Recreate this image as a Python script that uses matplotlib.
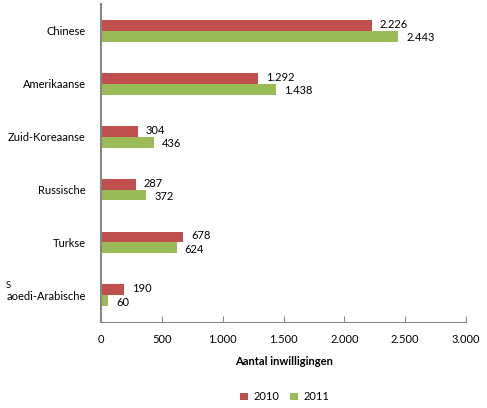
import matplotlib.pyplot as plt
import numpy as np

plt.rcParams['font.family'] = ['Lato', 'DejaVu Sans']

# data
landen = ['Chinese', 'Amerikaanse', 'Zuid-Koreaanse', 'Russische', 'Turkse', 'Saoedi-Arabische']
waarden_2010 = [2226, 1292, 304, 287, 678, 190]
waarden_2011 = [2443, 1438, 436, 372, 624, 60]
x_ticks = [0, 500, 1000, 1500, 2000, 2500, 3000]

rood = '#c0504d'
groen = '#9bbb59'
grijs = '#868686'

def fmt(v):
    return f'{v:,}'.replace(',', '.')

fig = plt.figure(figsize=(4.87, 4.08), dpi=100)
ax = fig.add_axes([0.2074, 0.2115, 0.7495, 0.7775])

y = np.arange(len(landen))
h = 0.205
ax.barh(y - h / 2, waarden_2010, height=h, color=rood, label='2010')
ax.barh(y + h / 2, waarden_2011, height=h, color=groen, label='2011')

for yi, v in zip(y, waarden_2010):
    ax.text(v + 65, yi - h / 2 - 0.02, fmt(v), va='center', ha='left', fontsize=8)
for yi, v in zip(y, waarden_2011):
    ax.text(v + 65, yi + h / 2 + 0.03, fmt(v), va='center', ha='left', fontsize=8)

ax.set_xlim(0, 3000)
ax.set_ylim(len(landen) - 0.5, -0.5)
ax.set_xticks(x_ticks)
ax.set_xticklabels([fmt(t) for t in x_ticks], fontsize=8)
ax.tick_params(axis='x', direction='in', length=4, color=grijs, pad=9)

# the last label is drawn with a displaced "S" like in the original
labels = landen[:-1] + ['aoedi-Arabische']
ax.set_yticks(y)
ax.set_yticklabels(labels, fontsize=8)
ax.tick_params(axis='y', length=0, pad=11)
ax.text(-0.26, 0.113, 'S', transform=ax.transAxes, fontsize=7, ha='left', va='center')

for s in ['top', 'right']:
    ax.spines[s].set_visible(False)
ax.spines['left'].set_color(grijs)
ax.spines['bottom'].set_color(grijs)
ax.spines['left'].set_linewidth(1.5)

ax.set_xlabel('Aantal inwilligingen', fontsize=8, fontweight='bold', labelpad=8)

fig.legend(loc='lower center', bbox_to_anchor=(0.585, 0.0), ncol=2, frameon=False,
           fontsize=8, handlelength=0.7, handleheight=0.7, columnspacing=1.0,
           handletextpad=0.5, borderaxespad=0.1)

fig.savefig('out.png', dpi=100)
